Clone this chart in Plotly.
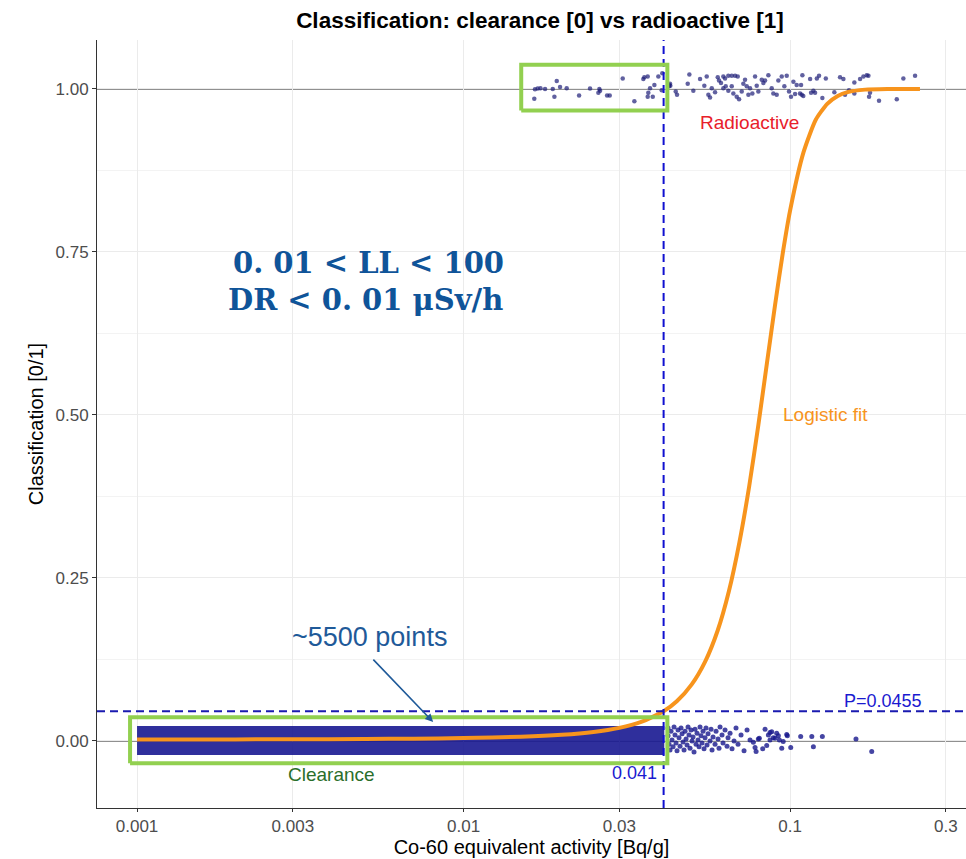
import math
import plotly.graph_objects as go

# ---------------- data ----------------
# Radioactive (class 1) jittered points: activity [Bq/g], jittered classification
top_x = [0.01655, 0.01687, 0.01720, 0.01777, 0.01647, 0.01876, 0.01930, 0.01898, 0.01975, 0.02070,
         0.02259, 0.02440, 0.02606, 0.02619, 0.02588, 0.02752, 0.02804, 0.03073, 0.03336, 0.03579,
         0.03665, 0.03554, 0.03951, 0.03841, 0.03726, 0.03681, 0.03665, 0.03798, 0.04063, 0.04046,
         0.04260, 0.04299,
         0.04290, 0.04260, 0.04466, 0.04507, 0.04917, 0.04860, 0.05056, 0.05301, 0.05557, 0.05464,
         0.05758, 0.05622, 0.05689, 0.05893, 0.06006, 0.06061, 0.06147, 0.06248, 0.06323, 0.06472,
         0.06629, 0.06785, 0.06915, 0.06248, 0.06354, 0.06472, 0.06629, 0.06705, 0.06866, 0.06981,
         0.07113, 0.07195, 0.07281, 0.07369, 0.07455, 0.07543, 0.07667, 0.07814, 0.07907, 0.07997,
         0.08191, 0.08285, 0.08385, 0.08584, 0.08788, 0.08889, 0.09103, 0.09210, 0.09432, 0.09607,
         0.09770, 0.09930, 0.1007, 0.1024, 0.1048, 0.1073, 0.1091,
         0.1081, 0.1036, 0.1086, 0.1098, 0.1152, 0.1160, 0.1179, 0.1193, 0.1208, 0.1227,
         0.1256, 0.1287, 0.1367, 0.1423, 0.1457, 0.1474, 0.1516, 0.1574, 0.1574, 0.1639,
         0.1678, 0.1718, 0.1738, 0.1758, 0.1746, 0.1873, 0.2123, 0.2224, 0.2415]
top_y = [0.9995, 1.0005, 1.001, 1.000, 0.985, 1.000, 1.012, 0.988, 1.003, 1.001,
         0.990, 1.0005, 1.000, 0.997, 0.994, 0.990, 0.990, 1.016, 0.981, 1.018,
         1.019, 1.015, 1.019, 1.006, 1.001, 0.994, 0.988, 0.988, 1.024, 0.998,
         1.006, 1.005,
         1.008, 1.004, 0.996, 0.991, 1.022, 1.008, 0.997, 1.015, 1.019, 1.005,
         1.001, 0.991, 0.987, 0.995, 1.018, 1.013, 1.009, 1.019, 1.016, 1.020,
         1.020, 1.020, 1.019, 1.001, 1.004, 0.997, 1.004, 0.993, 0.988, 0.984,
         0.996, 1.008, 1.014, 1.004, 0.991, 1.001, 0.993, 1.019, 1.005, 0.996,
         1.014, 1.009, 1.013, 1.021, 1.001, 0.993, 0.991, 1.013, 1.019, 1.004,
         1.020, 0.996, 0.988, 1.011, 1.006, 0.993, 1.021,
         1.006, 0.992, 0.991, 0.989, 1.015, 0.994, 0.997, 0.994, 1.016, 1.020,
         0.986, 1.016, 0.995, 1.018, 1.015, 0.991, 0.998, 1.010, 0.993, 1.015,
         1.019, 1.021, 1.020, 0.994, 0.988, 0.982, 0.984, 1.016, 1.020]

# Clearance (class 0) points above the 0.041 threshold (tail of the distribution)
tail_x = [0.04230, 0.04230, 0.04260, 0.04290, 0.04320, 0.04351, 0.04382, 0.04413, 0.04444, 0.04475,
          0.04507, 0.04539, 0.04571, 0.04604, 0.04637, 0.04670, 0.04703, 0.04736, 0.04769, 0.04803,
          0.04837, 0.04871, 0.04905, 0.04940, 0.04975, 0.05010, 0.05045, 0.05081, 0.05117, 0.05153,
          0.05190, 0.05227, 0.05264, 0.05301, 0.05338, 0.05376, 0.05414, 0.05453, 0.05491, 0.05530,
          0.05569, 0.05609, 0.05689, 0.05729, 0.05770, 0.05811, 0.05893, 0.05935, 0.06019, 0.06061,
          0.06104, 0.06190, 0.06234, 0.06323, 0.06413, 0.06458, 0.06550, 0.06643, 0.06738, 0.06833,
          0.06930, 0.07079, 0.07230, 0.07385,
          0.07543, 0.07721, 0.07814, 0.07871, 0.07997, 0.08053, 0.08247, 0.08385, 0.08484, 0.08584,
          0.08684, 0.08788, 0.08684, 0.08889, 0.08996, 0.09103, 0.09210, 0.09276, 0.09432, 0.09530,
          0.09770, 0.09812, 0.1005, 0.1078, 0.1166, 0.1179, 0.1256, 0.1592, 0.1779]
tail_y = [0.020, 0.008, -0.005, -0.014, 0.015, 0.0015, -0.009, 0.0215, 0.009, -0.003,
          -0.015, 0.017, 0.005, -0.008, 0.020, 0.011, -0.0015, -0.014, 0.015, 0.003,
          -0.006, 0.0215, 0.009, -0.011, 0.017, 0.0, 0.006, -0.017, 0.018, -0.005,
          0.012, 0.0015, -0.009, 0.0215, 0.008, -0.003, 0.015, -0.012, 0.005, 0.020,
          -0.006, 0.011, 0.0, 0.018, -0.014, 0.006, -0.005, 0.015, 0.003, -0.011,
          0.0215, 0.009, -0.003, 0.017, -0.008, 0.005, 0.012, -0.012, 0.0, 0.020,
          -0.005, 0.009, -0.015, 0.017,
          0.0015, -0.002, -0.010, -0.016, 0.003, 0.004, -0.012, 0.018, -0.007, 0.009,
          0.013, 0.014, 0.0015, 0.005, 0.004, 0.012, 0.008, 0.0015, -0.011, -0.001,
          0.010, 0.008, -0.010, 0.007, 0.007, -0.009, 0.007, 0.003, -0.016]

# Dense band of ~5500 clearance points (x extent and jitter extent)
band_x = [0.001, 0.0412]
band_y = [-0.0215, 0.023]

# Logistic fit curve
fit_x = [0.001, 0.002, 0.003, 0.005, 0.007, 0.01, 0.015, 0.02, 0.025, 0.03, 0.035, 0.041,
         0.045, 0.05, 0.055, 0.06, 0.065, 0.07, 0.075, 0.08, 0.085, 0.09, 0.095, 0.1,
         0.11, 0.12, 0.13, 0.14, 0.15, 0.17, 0.2, 0.25]
fit_y = [0.00223, 0.00241, 0.00260, 0.00303, 0.00352, 0.00443, 0.00648, 0.00947, 0.0138, 0.0201,
         0.0292, 0.0455, 0.0608, 0.0867, 0.122, 0.169, 0.230, 0.305, 0.391, 0.485, 0.580, 0.669,
         0.748, 0.813, 0.903, 0.953, 0.977, 0.989, 0.995, 0.9989, 0.9999, 1.0]

threshold_x = 0.041
threshold_p = 0.0455

# highlight boxes
box_top_x = [0.01502, 0.0421]
box_top_y = [0.967, 1.037]
box_bot_x = [0.000952, 0.0421]
box_bot_y = [-0.0342, 0.0363]

x_tickvals = [0.001, 0.003, 0.01, 0.03, 0.1, 0.3]
x_ticktext = ["0.001", "0.003", "0.01", "0.03", "0.1", "0.3"]
y_tickvals = [0.0, 0.25, 0.5, 0.75, 1.0]
y_ticktext = ["0.00", "0.25", "0.50", "0.75", "1.00"]

X_RANGE = [math.log10(0.000754), math.log10(0.3459)]
Y_RANGE = [-0.1028, 1.075]

L = math.log10
SANS = "Liberation Sans"

fig = go.Figure()

# dense band
fig.add_trace(go.Scatter(
    x=[band_x[0], band_x[1], band_x[1], band_x[0], band_x[0]],
    y=[band_y[0], band_y[0], band_y[1], band_y[1], band_y[0]],
    mode="lines", fill="toself", fillcolor="rgba(24,24,145,0.9)",
    line=dict(width=0), hoverinfo="skip", showlegend=False))

# points
fig.add_trace(go.Scatter(x=tail_x, y=tail_y, mode="markers",
                         marker=dict(size=5, color="rgba(22,22,140,0.8)"), showlegend=False))
fig.add_trace(go.Scatter(x=top_x, y=top_y, mode="markers",
                         marker=dict(size=4.5, color="rgba(30,30,120,0.7)"), showlegend=False))

# logistic fit
fig.add_trace(go.Scatter(x=fit_x, y=fit_y, mode="lines",
                         line=dict(color="#f7941d", width=4, shape="spline", smoothing=0.6),
                         showlegend=False))

# threshold vertical dashed line
fig.add_trace(go.Scatter(x=[threshold_x, threshold_x], y=Y_RANGE, mode="lines",
                         line=dict(color="#1010d0", width=2, dash="8px,5px"), showlegend=False))

# green boxes
for bx, by in ((box_top_x, box_top_y), (box_bot_x, box_bot_y)):
    fig.add_trace(go.Scatter(x=[bx[0], bx[1], bx[1], bx[0], bx[0]],
                             y=[by[0], by[0], by[1], by[1], by[0]],
                             mode="lines", line=dict(color="#92d050", width=4),
                             hoverinfo="skip", showlegend=False))

shapes = [
    dict(type="line", xref="paper", x0=0, x1=1, yref="y", y0=0, y1=0,
         line=dict(color="#222222", width=1.2), layer="below"),
    dict(type="line", xref="paper", x0=0, x1=1, yref="y", y0=1, y1=1,
         line=dict(color="#222222", width=1.2), layer="below"),
    dict(type="line", xref="paper", x0=0, x1=1, yref="y", y0=threshold_p, y1=threshold_p,
         line=dict(color="#1a1ab0", width=2, dash="8px,5px")),
]

annotations = [
    dict(x=L(0.0749), y=0.949, text="Radioactive", showarrow=False,
         font=dict(family=SANS, size=19, color="#e8202a")),
    dict(x=L(0.1287), y=0.5, text="Logistic fit", showarrow=False,
         font=dict(family=SANS, size=19, color="#f7941d")),
    dict(x=L(0.00393), y=-0.052, text="Clearance", showarrow=False,
         font=dict(family=SANS, size=19, color="#2a6e2a")),
    dict(x=L(threshold_x), y=-0.049, text="0.041", showarrow=False, xanchor="right", xshift=-5,
         font=dict(family=SANS, size=18, color="#1a1ad0")),
    dict(x=L(0.192), y=0.0613, text="P=0.0455", showarrow=False,
         font=dict(family=SANS, size=18, color="#1a1ad0")),
    dict(x=L(0.00517), y=0.1595, text="~5500 points", showarrow=False,
         font=dict(family=SANS, size=27, color="#1f5a99")),
    dict(x=L(0.00807), y=0.029, ax=L(0.00524), ay=0.127, axref="x", ayref="y",
         text="", showarrow=True, arrowhead=2, arrowsize=1, arrowwidth=1.6, arrowcolor="#1f5a99"),
    dict(x=L(0.0051), y=0.733, text="<b>0. 01 &lt; LL &lt; 100</b>", showarrow=False,
         font=dict(family="DejaVu Serif", size=29, color="#0f5499")),
    dict(x=L(0.0050), y=0.676, text="<b>DR &lt; 0. 01 μSv/h</b>", showarrow=False,
         font=dict(family="DejaVu Serif", size=29, color="#0f5499")),
]

fig.update_layout(
    width=966, height=859,
    margin=dict(l=97, r=0, t=40, b=51),
    paper_bgcolor="white", plot_bgcolor="white",
    title=dict(text="<b>Classification: clearance [0] vs radioactive [1]</b>",
               x=0.559, xanchor="center", y=0.976, yanchor="middle",
               font=dict(family=SANS, size=22.5, color="black")),
    shapes=shapes, annotations=annotations,
    showlegend=False,
)
fig.update_xaxes(type="log", range=X_RANGE, tickvals=x_tickvals, ticktext=x_ticktext,
                 showgrid=True, gridcolor="#ebebeb", gridwidth=1,
                 showline=True, linecolor="#333333", linewidth=1,
                 ticks="outside", ticklen=3, tickcolor="#333333",
                 tickfont=dict(family=SANS, size=17, color="#4d4d4d"),
                 title=dict(text="Co-60 equivalent activity [Bq/g]", standoff=0,
                            font=dict(family=SANS, size=20, color="black")),
                 zeroline=False)
fig.update_yaxes(range=Y_RANGE, tickvals=y_tickvals, ticktext=y_ticktext,
                 showgrid=True, gridcolor="#ebebeb", gridwidth=1,
                 minor=dict(tickvals=[0.125, 0.375, 0.625, 0.875], showgrid=True,
                            gridcolor="#f3f3f3", gridwidth=1, ticks=""),
                 showline=True, linecolor="#333333", linewidth=1,
                 ticks="outside", ticklen=4, tickcolor="#333333",
                 tickfont=dict(family=SANS, size=17, color="#4d4d4d"),
                 title=dict(text="Classification [0/1]", standoff=6,
                            font=dict(family=SANS, size=20, color="black")),
                 zeroline=False)

fig.write_html("out.html")
